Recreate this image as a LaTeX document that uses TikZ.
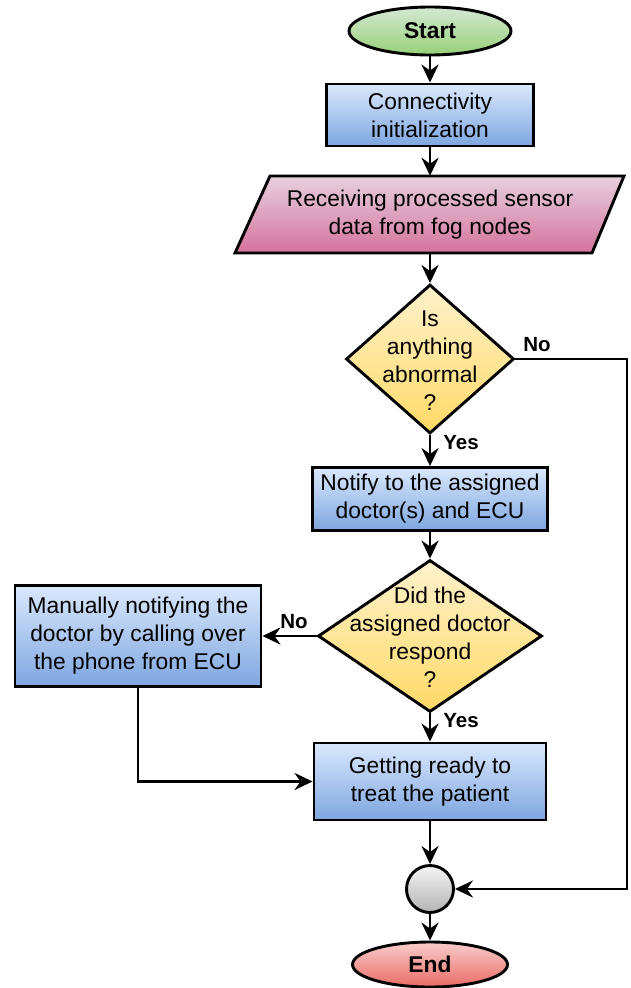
\documentclass[tikz,border=0pt]{standalone}
\usepackage{fontspec}
\setmainfont{Liberation Sans}
\usetikzlibrary{shapes.geometric,arrows.meta}
\definecolor{gA}{HTML}{D5E8D4}\definecolor{gB}{HTML}{97D077}
\definecolor{bA}{HTML}{DAE8FC}\definecolor{bB}{HTML}{7EA6E0}
\definecolor{pA}{HTML}{E6D0DE}\definecolor{pB}{HTML}{D5739D}
\definecolor{yA}{HTML}{FFF2CC}\definecolor{yB}{HTML}{FFD966}
\definecolor{rA}{HTML}{F8CECC}\definecolor{rB}{HTML}{EA6B66}
\definecolor{sA}{HTML}{F5F5F5}\definecolor{sB}{HTML}{B3B3B3}
\tikzset{
  txt/.style={font=\fontsize{22.8}{28}\selectfont, align=center, inner sep=0pt},
  lbl/.style={font=\fontsize{20.5}{24}\selectfont\bfseries, inner sep=0pt},
  edge/.style={draw=black, line width=2.9pt},
  procbox/.style={rectangle, edge, top color=bA, bottom color=bB, txt},
  termA/.style={ellipse, edge, top color=gA, bottom color=gB, inner sep=0pt, font=\fontsize{22.8}{28}\selectfont\bfseries},
  termB/.style={ellipse, edge, top color=rA, bottom color=rB, inner sep=0pt, font=\fontsize{22.8}{28}\selectfont\bfseries},
  decide/.style={diamond, edge, top color=yA, bottom color=yB, inner sep=0pt},
  joiner/.style={circle, edge, top color=sA, bottom color=sB, inner sep=0pt, minimum size=47pt},
  conn/.style={line width=2.9pt, -{Stealth[length=18pt,width=17pt,inset=6pt]}},
}
\begin{document}
\begin{tikzpicture}[x=1pt,y=-1pt]
\useasboundingbox (0,0) rectangle (631,988);
% parallelogram body
\path[edge, top color=pA, bottom color=pB] (270,176) -- (624,176) -- (592,253) -- (235,253) -- cycle;
\node[termA, minimum width=162pt, minimum height=48pt] (start) at (430,31) {Start};
\node[procbox, minimum width=207pt, minimum height=62pt] (conn) at (430,115) {Connectivity\\initialization};
\node[txt, minimum width=320pt, minimum height=77pt] (recv) at (430,214.5) {Receiving processed sensor\\data from fog nodes};
\node[decide, minimum width=168pt, minimum height=149pt] (d1) at (430,359) {};
\node[txt] (d1t) at (430,361) {Is\\anything\\abnormal\\?};
\node[procbox, minimum width=235pt, minimum height=63pt] (notify) at (430,499) {Notify to the assigned\\doctor(s) and ECU};
\node[decide, minimum width=224pt, minimum height=152pt] (d2) at (430,636) {};
\node[txt] (d2t) at (430,637) {Did the\\assigned doctor\\respond\\?};
\node[procbox, minimum width=246pt, minimum height=101pt] (manual) at (138,636) {Manually notifying the\\doctor by calling over\\the phone from ECU};
\node[procbox, minimum width=232pt, minimum height=77pt] (ready) at (430,781.5) {Getting ready to\\treat the patient};
\node[joiner] (merge) at (430,889) {};
\node[termB, minimum width=155pt, minimum height=45pt] (end) at (430,964.5) {End};
\coordinate (r1) at (627,359);
\coordinate (r2) at (627,889);
\coordinate (m1) at (138,781.5);
% labels
\node[lbl] (no1) at (537,345) {No};
\node[lbl] (yes1) at (461,443) {Yes};
\node[lbl] (no2) at (294,622) {No};
\node[lbl] (yes2) at (461,721) {Yes};
% connectors
\draw[conn] (start) -- (conn);
\draw[conn] (conn) -- (recv.north);
\draw[conn] (recv.south) -- (d1.north);
\draw[conn] (d1.south) -- (notify.north);
\draw[conn] (d1.east) -- (r1) -- (r2) -- (merge.east);
\draw[conn] (notify.south) -- (d2.north);
\draw[conn] (d2.west) -- (manual.east);
\draw[conn] (d2.south) -- (ready.north);
\draw[conn] (manual.south) -- (m1) -- (ready.west);
\draw[conn] (ready.south) -- (merge.north);
\draw[conn] (merge.south) -- (end.north);
\end{tikzpicture}
\end{document}
